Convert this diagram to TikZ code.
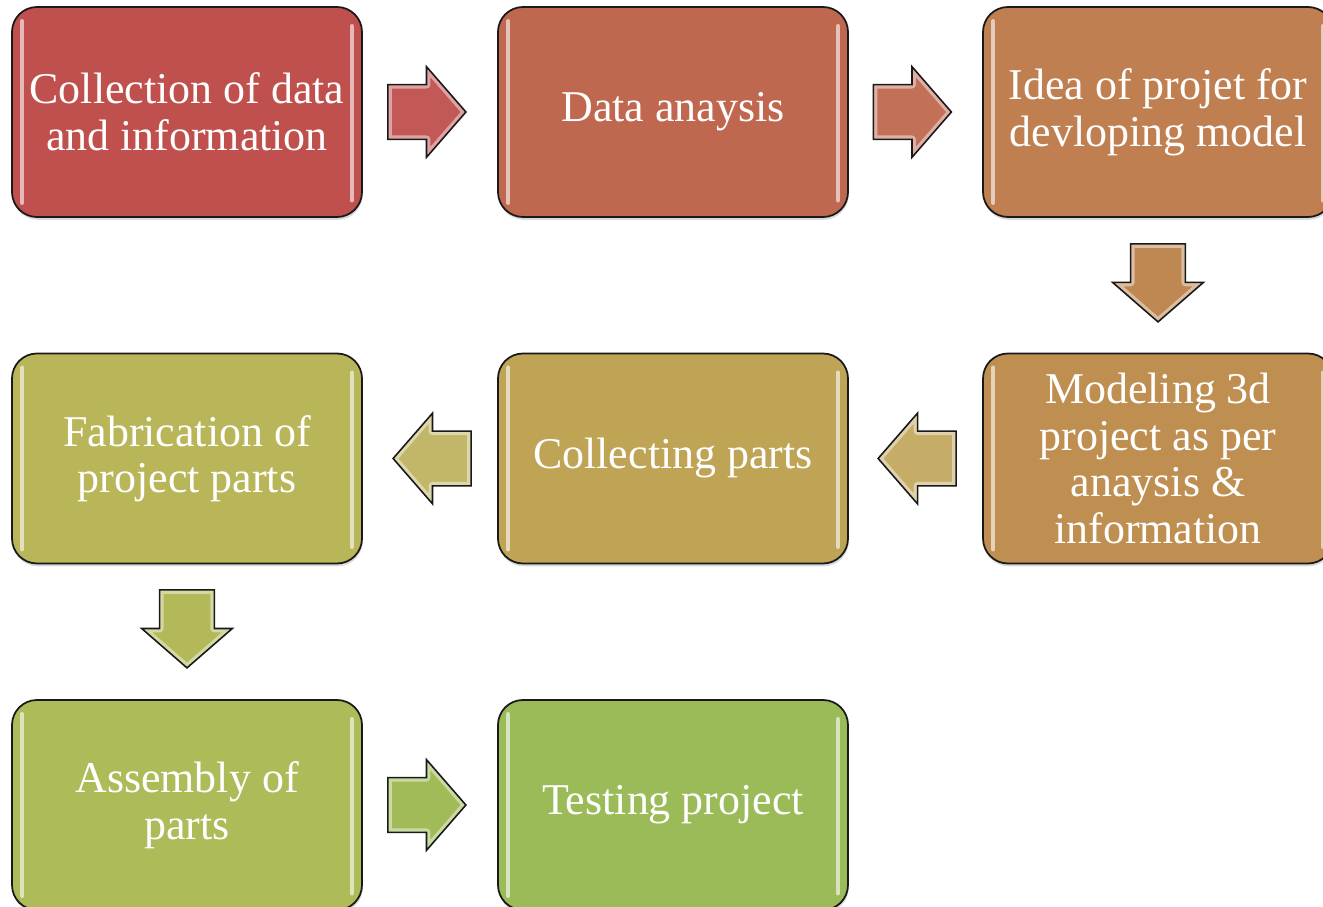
\documentclass[tikz,border=0pt]{standalone}
\usepackage{fontspec}
\setmainfont{Liberation Serif}
\usetikzlibrary{shapes.arrows,shadows}

\definecolor{red1}{HTML}{C0504D}
\definecolor{red2}{HTML}{C0684F}
\definecolor{orng}{HTML}{C07F50}
\definecolor{brwn}{HTML}{BF8F52}
\definecolor{gold}{HTML}{BFA456}
\definecolor{olive}{HTML}{B9B65A}
\definecolor{lime}{HTML}{AEBB59}
\definecolor{grn}{HTML}{9BBB59}

\begin{document}
\begin{tikzpicture}[
	stage/.style={draw=black!90, line width=1pt, rounded corners=0.5cm,
		minimum width=7cm, minimum height=4.2cm, text=white, align=center,
		font=\fontsize{25}{26.5}\selectfont,
		drop shadow={shadow xshift=0.4pt, shadow yshift=-1.6pt, opacity=0.3}},
	flow/.style={single arrow, fill=#1,
		inner xsep=0pt, inner ysep=0.54cm, minimum height=1.56cm, minimum width=1.8cm,
		single arrow head extend=0.36cm, single arrow tip angle=98,
		postaction={draw=white, opacity=0.45, line width=4.5pt, line join=round},
		postaction={draw=black!90, line width=0.9pt}},
	gloss/.style={line width=2.4pt, line cap=round, white, opacity=0.6}]
	\useasboundingbox (0,0) rectangle (26.46,-18.14);
	
	\node[stage, fill=red1] (collect) at (3.74,-2.24) {Collection of data\\and information};
	\node[stage, fill=red2] (analysis) at (13.46,-2.24) {Data anaysis};
	\node[stage, fill=orng] (idea) at (23.16,-2.24) {Idea of projet for\\devloping model};
	\node[stage, fill=brwn] (model) at (23.16,-9.17) {Modeling 3d\\project as per\\anaysis \&\\information};
	\node[stage, fill=gold] (parts) at (13.46,-9.17) {Collecting parts};
	\node[stage, fill=olive] (fabricate) at (3.74,-9.17) {Fabrication of\\project parts};
	\node[stage, fill=lime] (assembly) at (3.74,-16.1) {Assembly of\\parts};
	\node[stage, fill=grn] (testing) at (13.46,-16.1) {Testing project};
	
	% glossy edges
	\foreach \n in {collect,analysis,idea,model,parts,fabricate,assembly,testing}{
		\draw[gloss] ([xshift=0.22cm,yshift=-0.3cm]\n.north west) -- ([xshift=0.22cm,yshift=0.3cm]\n.south west);
		\draw[gloss] ([xshift=-0.22cm,yshift=-0.4cm]\n.north east) -- ([xshift=-0.22cm,yshift=0.35cm]\n.south east);
	}
	
	% block arrows between the steps
	\node[flow=red1!95!white] (a1) at (8.30,-2.24) {};
	\node[flow=red2!95!white] (a2) at (18.01,-2.24) {};
	\node[flow=orng!50!brwn, rotate=270] (a3) at (23.16,-5.42) {};
	\node[flow=gold!90!white, rotate=180] (a4) at (18.58,-9.17) {};
	\node[flow=gold!40!olive!90!white, rotate=180] (a5) at (8.88,-9.17) {};
	\node[flow=olive!50!lime, rotate=270] (a6) at (3.74,-12.34) {};
	\node[flow=lime!30!grn, rotate=0] (a7) at (8.30,-16.1) {};
\end{tikzpicture}
\end{document}
